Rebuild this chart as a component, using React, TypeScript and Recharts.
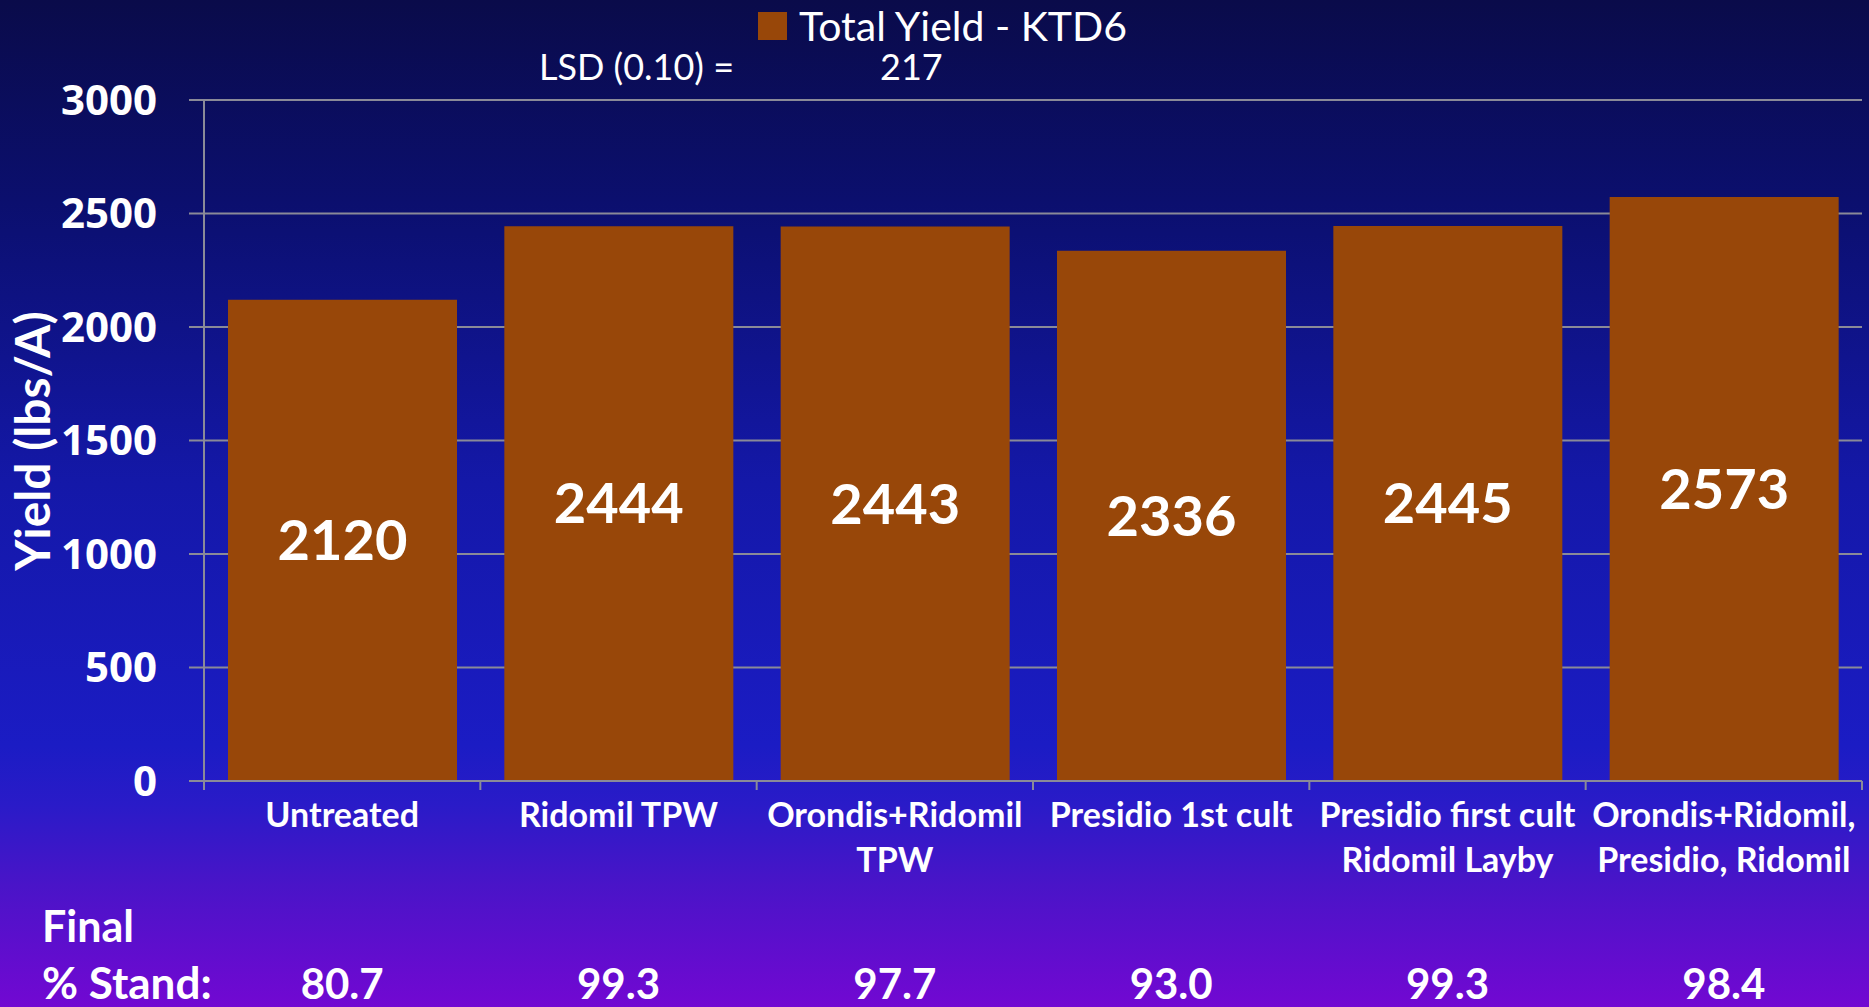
import React from 'react';
import { BarChart, Bar, XAxis, YAxis, CartesianGrid, LabelList } from 'recharts';

// ---- data ----
const categories = [
  'Untreated',
  'Ridomil TPW',
  'Orondis+Ridomil\nTPW',
  'Presidio 1st cult',
  'Presidio first cult\nRidomil Layby',
  'Orondis+Ridomil,\nPresidio, Ridomil',
];
const yieldValues = [2120, 2444, 2443, 2336, 2445, 2573];
const standValues = [80.7, 99.3, 97.7, 93.0, 99.3, 98.4];
const yTicks = [0, 500, 1000, 1500, 2000, 2500, 3000];
const seriesName = 'Total Yield - KTD6';
const lsdLabel = 'LSD (0.10) =';
const lsdValue = 217;
const yAxisTitle = 'Yield (lbs/A)';
const standTitle = ['Final', '% Stand:'];

const data = categories.map((c, i) => ({ category: c, yield: yieldValues[i], stand: standValues[i] }));

// ---- layout / style ----
const W = 1869;
const H = 1007;
const MARGIN = { top: 100, right: 7, bottom: 0, left: 0 };
const Y_AXIS_W = 204;
const X_AXIS_H = 226;
const PLOT_W = W - MARGIN.left - MARGIN.right - Y_AXIS_W;
const BAR_COLOR = '#984709';
const GRID = '#8a8a98';
const FONT = "Lato, 'Open Sans', sans-serif";
const BG =
  'linear-gradient(to bottom, #0a0b4a 0%, #0b0f6e 20%, #1418a8 48%, #1b1cc4 74%, #2a1bc8 80%, #4a14c8 88%, #7208d2 100%)';

const CategoryTick = (props: any) => {
  const { x, y, payload, index } = props;
  const band = (typeof props.width === 'number' && props.width > 0 ? props.width : PLOT_W) / categories.length;
  const lines = String(payload.value).split('\n');
  const left = x - band / 2;
  const right = x + band / 2;
  const v = standValues[index];
  return (
    <g>
      <line x1={left} x2={left} y1={y} y2={y + 9} stroke={GRID} strokeWidth={2} />
      {index === categories.length - 1 && (
        <line x1={right} x2={right} y1={y} y2={y + 9} stroke={GRID} strokeWidth={2} />
      )}
      <text x={x} y={y + 46} textAnchor="middle" fill="#ffffff" fontFamily={FONT} fontWeight={700} fontSize={34}>
        {lines.map((l, i) => (
          <tspan key={i} x={x} dy={i === 0 ? 0 : 45}>
            {l}
          </tspan>
        ))}
      </text>
      <text x={x} y={y + 218} textAnchor="middle" fill="#ffffff" fontFamily={FONT} fontWeight={700} fontSize={42}>
        {v !== undefined ? v.toFixed(1) : ''}
      </text>
    </g>
  );
};

export default function App() {
  return (
    <div
      style={{
        position: 'absolute',
        left: 0,
        top: 0,
        width: W,
        height: H,
        background: BG,
        overflow: 'hidden',
      }}
    >
      <BarChart width={W} height={H} data={data} margin={MARGIN}>
        <CartesianGrid vertical={false} stroke={GRID} strokeWidth={2} />
        <XAxis
          dataKey="category"
          height={X_AXIS_H}
          interval={0}
          tickSize={0}
          tickMargin={0}
          tickLine={false}
          axisLine={{ stroke: GRID, strokeWidth: 2 }}
          tick={<CategoryTick />}
        />
        <YAxis
          width={Y_AXIS_W}
          domain={[0, 3000]}
          ticks={yTicks}
          interval={0}
          tickSize={15}
          tickMargin={32}
          axisLine={{ stroke: GRID, strokeWidth: 2 }}
          tickLine={{ stroke: GRID, strokeWidth: 2 }}
          tick={{ fill: '#ffffff', fontFamily: "'Open Sans', sans-serif", fontWeight: 700, fontSize: 42 }}
        />
        <Bar dataKey="yield" name={seriesName} fill={BAR_COLOR} barSize={229} isAnimationActive={false}>
          <LabelList
            dataKey="yield"
            position="center"
            fill="#ffffff"
            fontFamily={FONT}
            fontWeight={700}
            fontSize={56}
          />
        </Bar>
      </BarChart>
      <svg
        width={W}
        height={H}
        style={{ position: 'absolute', left: 0, top: 0, pointerEvents: 'none' }}
      >
        <rect x={758} y={12} width={29} height={28} fill={BAR_COLOR} />
        <text x={799} y={41} fill="#ffffff" fontFamily={FONT} fontSize={41}>
          {seriesName}
        </text>
        <text x={539} y={80} fill="#ffffff" fontFamily={FONT} fontSize={36}>
          {lsdLabel}
        </text>
        <text x={880} y={80} fill="#ffffff" fontFamily={FONT} fontSize={36}>
          {lsdValue}
        </text>
        <text
          transform="translate(50,441) rotate(-90)"
          x={0}
          y={0}
          textAnchor="middle"
          fill="#ffffff"
          fontFamily={FONT}
          fontWeight={700}
          fontSize={48}
        >
          {yAxisTitle}
        </text>
        <text x={42} y={942} fill="#ffffff" fontFamily={FONT} fontWeight={700} fontSize={43}>
          {standTitle[0]}
        </text>
        <text x={42} y={999} fill="#ffffff" fontFamily={FONT} fontWeight={700} fontSize={44}>
          {standTitle[1]}
        </text>
      </svg>
    </div>
  );
}
